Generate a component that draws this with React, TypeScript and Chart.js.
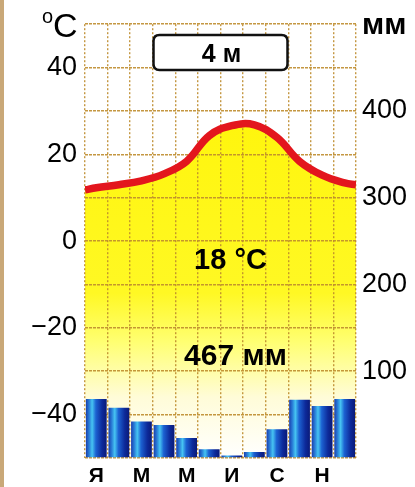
import React, { useEffect, useRef } from 'react';
import { Chart, registerables } from 'chart.js';

Chart.register(...registerables);

// ---- data ----
const months = ['Я', 'Ф', 'М', 'А', 'М', 'И', 'И', 'А', 'С', 'О', 'Н', 'Д'];
const precipitation = [68, 58, 42, 38, 23, 10, 3, 7, 33, 67, 60, 68]; // мм
const temperature = [12.3, 13.0, 13.9, 15.5, 18.4, 24.3, 26.6, 26.8, 23.9, 18.4, 15.2, 13.4]; // °C
const temperatureAtEdges = [11.8, 13.0]; // start of January, end of December
const tempTicks = [-40, -20, 0, 20, 40];
const precipTicks = [0, 100, 200, 300, 400, 500];
const tempRange = [-50, 50];
const precipRange = [0, 500];
const stationLabel = '4 м';
const meanTempLabel = '18 °C';
const annualPrecipLabel = '467 мм';
const precipUnit = 'мм';

const FONT = "'Liberation Sans', Arial, sans-serif";
const GRID = 'rgba(190, 140, 45, 0.9)';
const BAR_PCT = 0.92;

function roundRect(ctx: CanvasRenderingContext2D, x: number, y: number, w: number, h: number, r: number) {
  ctx.beginPath();
  ctx.moveTo(x + r, y);
  ctx.lineTo(x + w - r, y);
  ctx.quadraticCurveTo(x + w, y, x + w, y + r);
  ctx.lineTo(x + w, y + h - r);
  ctx.quadraticCurveTo(x + w, y + h, x + w - r, y + h);
  ctx.lineTo(x + r, y + h);
  ctx.quadraticCurveTo(x, y + h, x, y + h - r);
  ctx.lineTo(x, y + r);
  ctx.quadraticCurveTo(x, y, x + r, y);
  ctx.closePath();
}

const decorPlugin = {
  id: 'decor',
  beforeDraw(chart: any) {
    const ctx = chart.ctx as CanvasRenderingContext2D;
    ctx.save();
    ctx.fillStyle = '#c9a878';
    ctx.fillRect(0, 0, 4, chart.height);
    ctx.restore();
  },
  afterDraw(chart: any) {
    const ctx = chart.ctx as CanvasRenderingContext2D;
    const area = chart.chartArea;
    const cx = (area.left + area.right) / 2;
    ctx.save();
    ctx.fillStyle = '#000';
    ctx.textBaseline = 'alphabetic';

    // unit °C (top-left)
    ctx.textAlign = 'left';
    ctx.font = `20px ${FONT}`;
    ctx.fillText('o', 42, 23);
    ctx.font = `34px ${FONT}`;
    ctx.fillText('C', 53, 37);

    // unit мм (top-right)
    ctx.font = `bold 30px ${FONT}`;
    ctx.fillText(precipUnit, 362, 34);

    // station box
    ctx.lineWidth = 2.5;
    ctx.strokeStyle = '#111';
    ctx.fillStyle = '#fff';
    roundRect(ctx, cx - 67, 35, 134, 35, 6);
    ctx.fill();
    ctx.stroke();
    ctx.fillStyle = '#000';
    ctx.textAlign = 'center';
    ctx.font = `bold 25px ${FONT}`;
    ctx.fillText(stationLabel, cx + 1, 62);

    // mean temperature & annual precipitation
    ctx.font = `bold 29px ${FONT}`;
    ctx.fillText(meanTempLabel, cx + 10, 269);
    ctx.font = `bold 30px ${FONT}`;
    ctx.fillText(annualPrecipLabel, cx + 15, 365);
    ctx.restore();
  },
};

export default function App() {
  const ref = useRef<HTMLCanvasElement | null>(null);

  useEffect(() => {
    if (!ref.current) return;

    const lineData = [
      { x: 0, y: temperatureAtEdges[0] },
      ...temperature.map((t, i) => ({ x: i + 0.5, y: t })),
      { x: months.length, y: temperatureAtEdges[1] },
    ];

    const chart = new Chart(ref.current, {
      type: 'bar',
      data: {
        labels: months,
        datasets: [
          {
            type: 'line',
            data: lineData as any,
            xAxisID: 'x2',
            yAxisID: 'y',
            borderColor: '#e3161d',
            borderWidth: 7.5,
            pointRadius: 0,
            tension: 0.4,
            fill: 'start',
            backgroundColor: (c: any) => {
              const chart = c.chart;
              const a = chart.chartArea;
              if (!a) return '#fff200';
              const g = chart.ctx.createLinearGradient(0, a.top, 0, a.bottom);
              g.addColorStop(0, '#fff400');
              g.addColorStop(0.62, '#fff824');
              g.addColorStop(0.73, '#ffff70');
              g.addColorStop(0.86, '#fffcd8');
              g.addColorStop(1, '#ffffff');
              return g;
            },
            order: 2,
          } as any,
          {
            type: 'bar',
            data: precipitation,
            xAxisID: 'x',
            yAxisID: 'y1',
            grouped: false,
            categoryPercentage: 1,
            barPercentage: BAR_PCT,
            borderWidth: 0,
            backgroundColor: (c: any) => {
              const chart = c.chart;
              const xs = chart.scales && chart.scales.x;
              if (!xs || c.dataIndex === undefined || !chart.chartArea) return '#1a4fc0';
              const px = xs.getPixelForValue(c.dataIndex);
              const w = (xs.width / months.length) * BAR_PCT;
              const g = chart.ctx.createLinearGradient(px - w / 2, 0, px + w / 2, 0);
              g.addColorStop(0, '#1a3fae');
              g.addColorStop(0.16, '#2a7fd8');
              g.addColorStop(0.3, '#46c4f2');
              g.addColorStop(0.48, '#1c62d2');
              g.addColorStop(0.78, '#0d2a9a');
              g.addColorStop(1, '#0a1a78');
              return g;
            },
            order: 1,
          } as any,
        ],
      },
      options: {
        responsive: false,
        maintainAspectRatio: false,
        animation: false,
        layout: { padding: { top: 18, left: 0, right: 0, bottom: 0 } },
        plugins: {
          legend: { display: false },
          tooltip: { enabled: false },
          filler: { drawTime: 'beforeDraw' } as any,
        },
        scales: {
          x: {
            type: 'category',
            offset: true,
            grid: { color: GRID, lineWidth: 1.4, drawTicks: false, offset: true },
            border: { display: false, dash: [2, 2] },
            ticks: {
              autoSkip: false,
              maxRotation: 0,
              padding: 6,
              color: '#000',
              font: { family: FONT, size: 21, weight: 'bold' },
              callback: (_v: any, i: number) => (i % 2 === 0 ? months[i] : ''),
            },
            afterFit: (s: any) => { s.height = 29; },
          },
          x2: {
            type: 'linear',
            display: false,
            offset: false,
            min: 0,
            max: months.length,
            grid: { offset: false },
          },
          y: {
            type: 'linear',
            position: 'left',
            min: tempRange[0],
            max: tempRange[1],
            afterBuildTicks: (s: any) => { s.ticks = tempTicks.map((v) => ({ value: v })); },
            grid: { color: GRID, lineWidth: 1.6, drawTicks: false },
            border: { display: false, dash: [3, 1] },
            ticks: {
              padding: 8,
              color: '#000',
              font: { family: FONT, size: 27 },
              callback: (v: any) => (Number(v) < 0 ? '\u2212' + Math.abs(Number(v)) : String(v)),
            },
            afterFit: (s: any) => { s.width = 85; },
          },
          y1: {
            type: 'linear',
            position: 'right',
            min: precipRange[0],
            max: precipRange[1],
            afterBuildTicks: (s: any) => { s.ticks = precipTicks.map((v) => ({ value: v })); },
            grid: { color: GRID, lineWidth: 1.6, drawTicks: false },
            border: { display: false, dash: [3, 1] },
            ticks: {
              padding: 6,
              color: '#000',
              font: { family: FONT, size: 27 },
              callback: (v: any) => (Number(v) === precipRange[0] || Number(v) === precipRange[1] ? '' : String(v)),
            },
            afterFit: (s: any) => { s.width = 59; },
          },
        },
      } as any,
      plugins: [decorPlugin],
    });

    return () => chart.destroy();
  }, []);

  return (
    <div style={{ position: 'fixed', left: 0, top: 0, width: 415, height: 487, background: '#fff' }}>
      <canvas ref={ref} width={415} height={487} style={{ width: 415, height: 487, display: 'block' }} />
    </div>
  );
}
